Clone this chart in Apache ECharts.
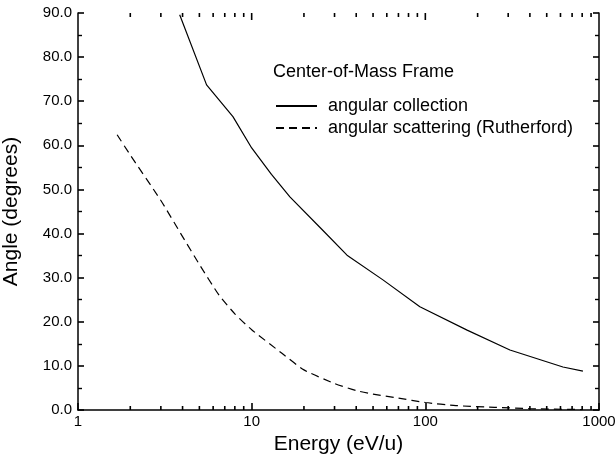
<!DOCTYPE html>
<html>
<head>
<meta charset="utf-8">
<script src="https://cdn.jsdelivr.net/npm/echarts@6/dist/echarts.min.js"></script>
<style>
  html, body { margin: 0; padding: 0; background: #fff; }
  #main { width: 616px; height: 458px; }
</style>
</head>
<body>
<div id="main"></div>
<script>
// energies (eV/u) and angles (degrees)
var collectionE = [3.85, 5.5, 7.8, 10, 13, 16.6, 25, 35.4, 57, 93, 174, 307, 620, 808];
var collectionAngle = [89.6, 73.7, 66.5, 59.4, 53.4, 48.3, 41.2, 35.1, 29.5, 23.4, 18.1, 13.6, 9.75, 8.8];

var scatterE = [1.68, 2, 3, 4, 5, 6.5, 8, 10, 15, 20, 30, 40, 50, 70, 100, 150, 250, 400, 800];
var scatterAngle = [62.4, 57.8, 47.5, 39.3, 33, 26, 21.8, 18.2, 12.8, 9.1, 6.0, 4.4, 3.6, 2.7, 1.7, 1.0, 0.6, 0.3, 0.1];

// tick values for the energy axis (top edge mirrors the bottom one)
var majorTickE = [10, 100];
var minorTickE = [2, 3, 4, 5, 6, 7, 8, 9, 20, 30, 40, 50, 60, 70, 80, 90, 200, 300, 400, 500, 600, 700, 800, 900];

var font = 'Liberation Sans, Arial, Helvetica, sans-serif';
var yMin = 0, yMax = 90;

function pairs(xs, ys) {
    var out = [];
    for (var i = 0; i < xs.length; i++) {
        out.push([xs[i], ys[i]]);
    }
    return out;
}

// short tick marks at the bottom and/or top edge of the grid
function tickRenderer(len, bottom) {
    return function (params, api) {
        var v = api.value(0);
        var b = api.coord([v, yMin]);
        var t = api.coord([v, yMax]);
        var kids = [
            { type: 'line', shape: { x1: t[0], y1: t[1], x2: t[0], y2: t[1] + len }, style: { stroke: '#000', lineWidth: 1.6 } }
        ];
        if (bottom) {
            kids.push({ type: 'line', shape: { x1: b[0], y1: b[1], x2: b[0], y2: b[1] - len }, style: { stroke: '#000', lineWidth: 1.6 } });
        }
        return { type: 'group', children: kids };
    };
}

var myChart = echarts.init(document.getElementById('main'));
myChart.setOption({
    animation: false,
    backgroundColor: '#fff',
    title: {
        text: 'Center-of-Mass Frame',
        left: 273,
        top: 63,
        padding: 0,
        textStyle: { fontFamily: font, fontSize: 18, fontWeight: 'normal', color: '#000' }
    },
    legend: {
        data: ['angular collection', 'angular scattering (Rutherford)'],
        orient: 'vertical',
        left: 275,
        top: 97,
        padding: 0,
        itemWidth: 41,
        itemHeight: 10,
        itemGap: 4,
        itemStyle: { opacity: 0 },
        textStyle: { fontFamily: font, fontSize: 18, color: '#000', padding: [0, 0, 0, 6], lineHeight: 18 }
    },
    grid: { left: 78, right: 17, top: 13, bottom: 48, outerBoundsMode: 'none', containLabel: false },
    xAxis: {
        type: 'log',
        logBase: 10,
        min: 1,
        max: 1000,
        name: 'Energy (eV/u)',
        nameLocation: 'middle',
        nameGap: 20,
        nameTextStyle: { fontFamily: font, fontSize: 21, color: '#000', verticalAlign: 'middle' },
        axisLine: { show: true, lineStyle: { color: '#000', width: 1.5 } },
        axisTick: { show: true, inside: true, length: 7, lineStyle: { color: '#000', width: 1.6 } },
        axisLabel: {
            fontFamily: font, fontSize: 15, color: '#000', margin: 4,
            formatter: function (v) { return String(Math.round(v)); }
        },
        splitLine: { show: false }
    },
    yAxis: [
        {
            type: 'value',
            min: yMin,
            max: yMax,
            interval: 10,
            name: 'Angle (degrees)',
            nameLocation: 'middle',
            nameGap: 56,
            nameTextStyle: { fontFamily: font, fontSize: 21, color: '#000' },
            axisLine: { show: true, lineStyle: { color: '#000', width: 1.5 } },
            axisTick: { show: true, inside: true, length: 6, lineStyle: { color: '#000', width: 1.6 } },
            minorTick: { show: true, splitNumber: 2, length: 4, lineStyle: { color: '#000', width: 1.4 } },
            axisLabel: {
                fontFamily: font, fontSize: 15, color: '#000', margin: 6,
                formatter: function (v) { return v.toFixed(1); }
            },
            splitLine: { show: false }
        },
        {
            type: 'value',
            min: yMin,
            max: yMax,
            interval: 10,
            position: 'right',
            axisLine: { show: true, lineStyle: { color: '#000', width: 1.5 } },
            axisTick: { show: true, inside: true, length: 6, lineStyle: { color: '#000', width: 1.6 } },
            minorTick: { show: true, splitNumber: 2, length: 4, lineStyle: { color: '#000', width: 1.4 } },
            axisLabel: { show: false },
            splitLine: { show: false }
        }
    ],
    series: [
        {
            name: 'angular collection',
            type: 'line',
            data: pairs(collectionE, collectionAngle),
            symbol: 'none',
            color: '#000',
            lineStyle: { color: '#000', width: 1.2, type: 'solid' }
        },
        {
            name: 'angular scattering (Rutherford)',
            type: 'line',
            data: pairs(scatterE, scatterAngle),
            symbol: 'none',
            smooth: 0.2,
            color: '#000',
            lineStyle: { color: '#000', width: 1.2, type: [8, 5] }
        },
        {
            name: 'minor ticks',
            type: 'custom',
            silent: true,
            z: 10,
            data: pairs(minorTickE, minorTickE),
            encode: { x: 0, y: 1 },
            renderItem: tickRenderer(4, true)
        },
        {
            name: 'top major ticks',
            type: 'custom',
            silent: true,
            z: 10,
            data: pairs(majorTickE, majorTickE),
            encode: { x: 0, y: 1 },
            renderItem: tickRenderer(7, false)
        }
    ]
});
</script>
</body>
</html>
